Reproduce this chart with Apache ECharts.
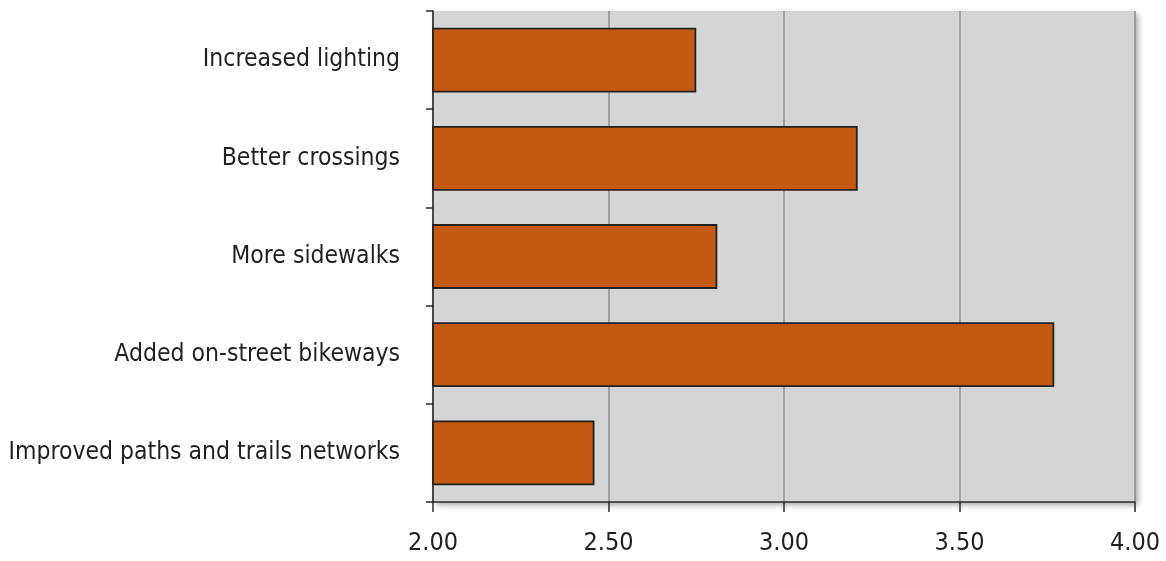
<!DOCTYPE html>
<html>
<head>
<meta charset="utf-8">
<script src="https://cdn.jsdelivr.net/npm/echarts@6/dist/echarts.min.js"></script>
<style>
  html, body { margin: 0; padding: 0; background: #ffffff; }
  #chart { width: 1166px; height: 561px; }
</style>
</head>
<body>
<div id="chart"></div>
<script>
// Improvements ranked by average score
const categories = [
  'Increased lighting',
  'Better crossings',
  'More sidewalks',
  'Added on-street bikeways',
  'Improved paths and trails networks'
];
const scores = [2.75, 3.21, 2.81, 3.77, 2.46];
const tickValues = [2.0, 2.5, 3.0, 3.5, 4.0];

const fontFamily = '"DejaVu Sans Condensed", "Liberation Sans Narrow", sans-serif';
const textColor = '#231f20';

const chart = echarts.init(document.getElementById('chart'));
chart.setOption({
  animation: false,
  grid: {
    left: 433, right: 31, top: 11, bottom: 59,
    containLabel: false,
    outerBoundsMode: 'none',
    show: true,
    backgroundColor: '#d4d5d7',
    borderWidth: 0,
    shadowColor: 'rgba(0,0,0,0.35)',
    shadowBlur: 6,
    shadowOffsetX: 3,
    shadowOffsetY: 3
  },
  xAxis: {
    type: 'value',
    min: tickValues[0],
    max: tickValues[tickValues.length - 1],
    interval: 0.5,
    axisLine: { show: true, lineStyle: { color: '#2a2a2a', width: 1.5 } },
    axisTick: { show: true, length: 10, lineStyle: { color: '#2a2a2a', width: 1.5 } },
    splitLine: { show: true, lineStyle: { color: '#8e8e90', width: 1.5 } },
    axisLabel: {
      margin: 29,
      fontFamily: fontFamily,
      fontSize: 25,
      color: textColor,
      formatter: v => v.toFixed(2)
    }
  },
  yAxis: {
    type: 'category',
    data: categories,
    inverse: true,
    axisLine: { show: true, lineStyle: { color: '#2a2a2a', width: 1.5 } },
    axisTick: { show: true, length: 7, lineStyle: { color: '#2a2a2a', width: 1.5 } },
    splitLine: { show: false },
    axisLabel: {
      margin: 33,
      fontFamily: fontFamily,
      fontSize: 24.5,
      color: textColor,
      padding: [4, 0, 0, 0]
    }
  },
  series: [{
    type: 'bar',
    data: scores,
    barCategoryGap: '34%',
    itemStyle: {
      color: '#c45a11',
      borderColor: '#222222',
      borderWidth: 1.8
    }
  }]
});
</script>
</body>
</html>
